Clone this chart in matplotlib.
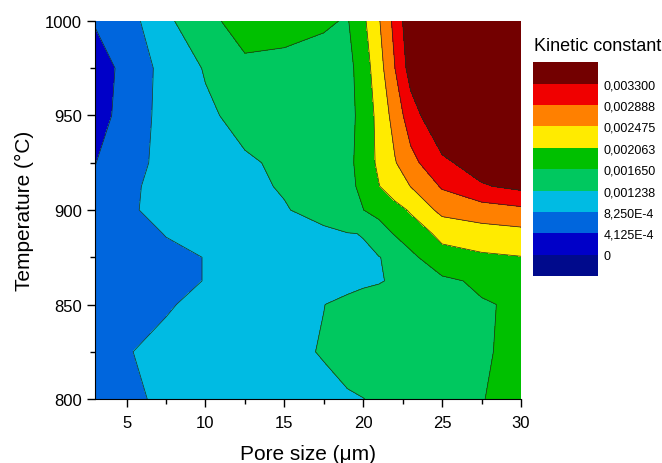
import numpy as np
import matplotlib
matplotlib.use('Agg')
import matplotlib.pyplot as plt
from matplotlib.colors import ListedColormap, BoundaryNorm
from matplotlib.cm import ScalarMappable
from matplotlib.ticker import MultipleLocator

plt.rcParams['font.family'] = ['Liberation Sans', 'DejaVu Sans']

# grid (values in units of 1e-3)
pore_size = [3, 5, 7.5, 10, 12.5, 15, 17.5, 19, 20, 21, 22, 23, 25, 27.5, 30]
temperature = [800, 825, 850, 862.5, 875, 887.5, 900, 912.5, 925, 950, 975, 1000]

k_800 = [0.55, 0.72, 0.92, 1.00, 1.08, 1.14, 1.19, 1.22, 1.235, 1.26, 1.35, 1.42, 1.53, 1.64, 1.75]
k_825 = [0.60, 0.80, 0.95, 1.05, 1.12, 1.19, 1.25, 1.30, 1.33, 1.36, 1.40, 1.43, 1.50, 1.62, 1.72]
k_850 = [0.52, 0.62, 0.78, 0.95, 1.10, 1.17, 1.235, 1.28, 1.32, 1.35, 1.38, 1.42, 1.50, 1.62, 1.70]
k_862 = [0.55, 0.62, 0.72, 0.835, 1.02, 1.10, 1.15, 1.18, 1.20, 1.22, 1.27, 1.40, 1.57, 1.72, 1.85]
k_875 = [0.55, 0.62, 0.72, 0.835, 1.00, 1.10, 1.16, 1.19, 1.21, 1.23, 1.30, 1.55, 1.95, 2.00, 2.05]
k_887 = [0.52, 0.62, 0.843, 1.00, 1.10, 1.15, 1.19, 1.225, 1.245, 1.45, 1.68, 1.87, 2.15, 2.30, 2.35]
k_900 = [0.50, 0.70, 1.09, 1.12, 1.16, 1.22, 1.33, 1.55, 1.645, 1.785, 1.934, 2.10, 2.60, 2.70, 2.80]
k_912 = [0.45, 0.72, 1.00, 1.12, 1.18, 1.26, 1.45, 1.57, 1.72, 2.05, 2.267, 2.48, 2.93, 3.26, 3.40]
k_925 = [0.405, 0.60, 1.00, 1.12, 1.20, 1.288, 1.45, 1.528, 1.833, 2.139, 2.444, 2.761, 3.2175, 3.50, 3.60]
k_950 = [0.32, 0.495, 1.01, 1.18, 1.34, 1.42, 1.45, 1.485, 1.815, 2.177, 2.635, 3.106, 3.70, 3.90, 3.90]
k_975 = [0.30, 0.477, 0.99, 1.264, 1.58, 1.55, 1.50, 1.52, 1.848, 2.308, 2.88, 3.47, 3.85, 4.00, 4.00]
k_1000 = [0.43, 0.65, 1.15, 1.55, 1.80, 1.78, 1.70, 1.62, 1.977, 2.442, 3.005, 3.60, 3.90, 4.00, 4.00]

levels = [0, 4.125e-4, 8.25e-4, 1.2375e-3, 1.65e-3, 2.0625e-3, 2.475e-3, 2.8875e-3, 3.3e-3]
level_labels = ['0', '4,125E-4', '8,250E-4', '0,001238', '0,001650',
                '0,002063', '0,002475', '0,002888', '0,003300']

colors = ['#000A8C', '#0000C8', '#0066DD', '#00BBE3', '#00C85F',
          '#00C000', '#FFEB00', '#FF8000', '#F00000', '#730000']

Z = np.array([k_800, k_825, k_850, k_862, k_875, k_887, k_900,
              k_912, k_925, k_950, k_975, k_1000]) * 1e-3
X, Y = np.meshgrid(pore_size, temperature)

fig = plt.figure(figsize=(6.62, 4.64), dpi=100)
ax = fig.add_axes([0.1435, 0.1379, 0.6435, 0.8147])

ax.contourf(X, Y, Z, levels=levels + [Z.max() + 1e-3], colors=colors[1:])
ax.contour(X, Y, Z, levels=levels[1:], colors='#1e2a1e', linewidths=0.5)

ax.set_xlim(3, 30)
ax.set_ylim(800, 1000)
ax.xaxis.set_major_locator(MultipleLocator(5))
ax.xaxis.set_minor_locator(MultipleLocator(2.5))
ax.yaxis.set_major_locator(MultipleLocator(50))
ax.yaxis.set_minor_locator(MultipleLocator(25))
ax.tick_params(which='major', direction='out', length=5.8, width=1, labelsize=12)
ax.tick_params(which='minor', direction='out', length=3.5, width=1)
ax.tick_params(axis='x', which='major', pad=5.5)
ax.spines['top'].set_visible(False)
ax.spines['right'].set_visible(False)
ax.set_xlabel('Pore size (\u03bcm)', fontsize=15, labelpad=10)
ax.set_ylabel('Temperature (\u00b0C)', fontsize=15, labelpad=8)

# legend boxes
cax = fig.add_axes([0.805, 0.4024, 0.0982, 0.4612])
sm = ScalarMappable(norm=BoundaryNorm(np.arange(-1, 10), 10), cmap=ListedColormap(colors))
cb = fig.colorbar(sm, cax=cax, ticks=np.arange(0, 9))
cb.set_ticklabels(level_labels)
cb.minorticks_off()
cb.outline.set_visible(False)
cax.tick_params(which='both', length=0, pad=4, labelsize=9)
fig.text(534 / 662, 1 - 46.7 / 464, 'Kinetic constant', fontsize=13, va='center', ha='left')

fig.savefig('out.png', dpi=100)
